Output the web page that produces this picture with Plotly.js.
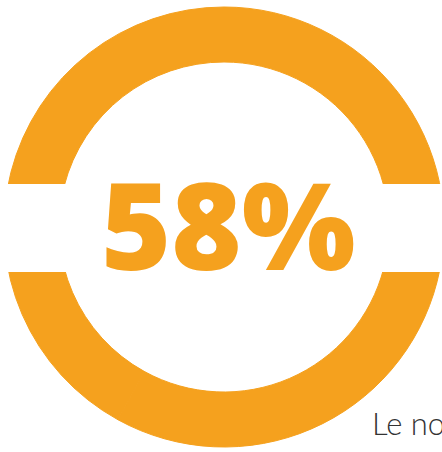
<!DOCTYPE html>
<html>
<head>
<meta charset="utf-8">
<script src="https://cdn.plot.ly/plotly-3.0.1.min.js"></script>
<style>
html,body{margin:0;padding:0;overflow:hidden;background:#fff;}
#chart{width:448px;height:452px;}
</style>
</head>
<body>
<div id="chart"></div>
<script>
// Data
const labels = ["Oui", "Autre"];
const values = [58, 42];
const headline = "58%";
const caption = "Le nombre";

const ORANGE = "#F5A11E";
const W = 448, H = 452;
const cx = 224, cy = 227, R = 220, rIn = 165;
const gapTop = 184, gapBottom = 272;

const trace = {
  type: "pie",
  labels: labels,
  values: values,
  sort: false,
  direction: "clockwise",
  hole: rIn / R,
  textinfo: "none",
  hoverinfo: "none",
  showlegend: false,
  marker: { colors: [ORANGE, ORANGE], line: { width: 1, color: ORANGE } },
  domain: {
    x: [(cx - R) / W, (cx + R) / W],
    y: [(H - cy - R) / H, (H - cy + R) / H]
  }
};

const layout = {
  width: W, height: H,
  margin: { l: 0, r: 0, t: 0, b: 0 },
  paper_bgcolor: "#fff",
  plot_bgcolor: "#fff",
  showlegend: false,
  shapes: [{
    type: "rect", xref: "paper", yref: "paper", layer: "above",
    x0: 0, x1: 1, y0: (H - gapBottom) / H, y1: (H - gapTop) / H,
    fillcolor: "#fff", line: { width: 0 }
  }],
  annotations: [
    {
      text: headline, xref: "paper", yref: "paper",
      x: 228 / W, y: (H - 223) / H, xanchor: "center", yanchor: "middle",
      showarrow: false,
      font: { family: "'Open Sans', Lato, sans-serif", size: 120, weight: 800, color: ORANGE }
    },
    {
      text: caption, xref: "paper", yref: "paper",
      x: 370 / W, y: (H - 423) / H, xanchor: "left", yanchor: "middle",
      showarrow: false,
      font: { family: "Lato, 'Open Sans', sans-serif", size: 31, weight: 300, color: "#333333" }
    }
  ]
};

Plotly.newPlot("chart", [trace], layout, { displayModeBar: false, staticPlot: true });
</script>
</body>
</html>
